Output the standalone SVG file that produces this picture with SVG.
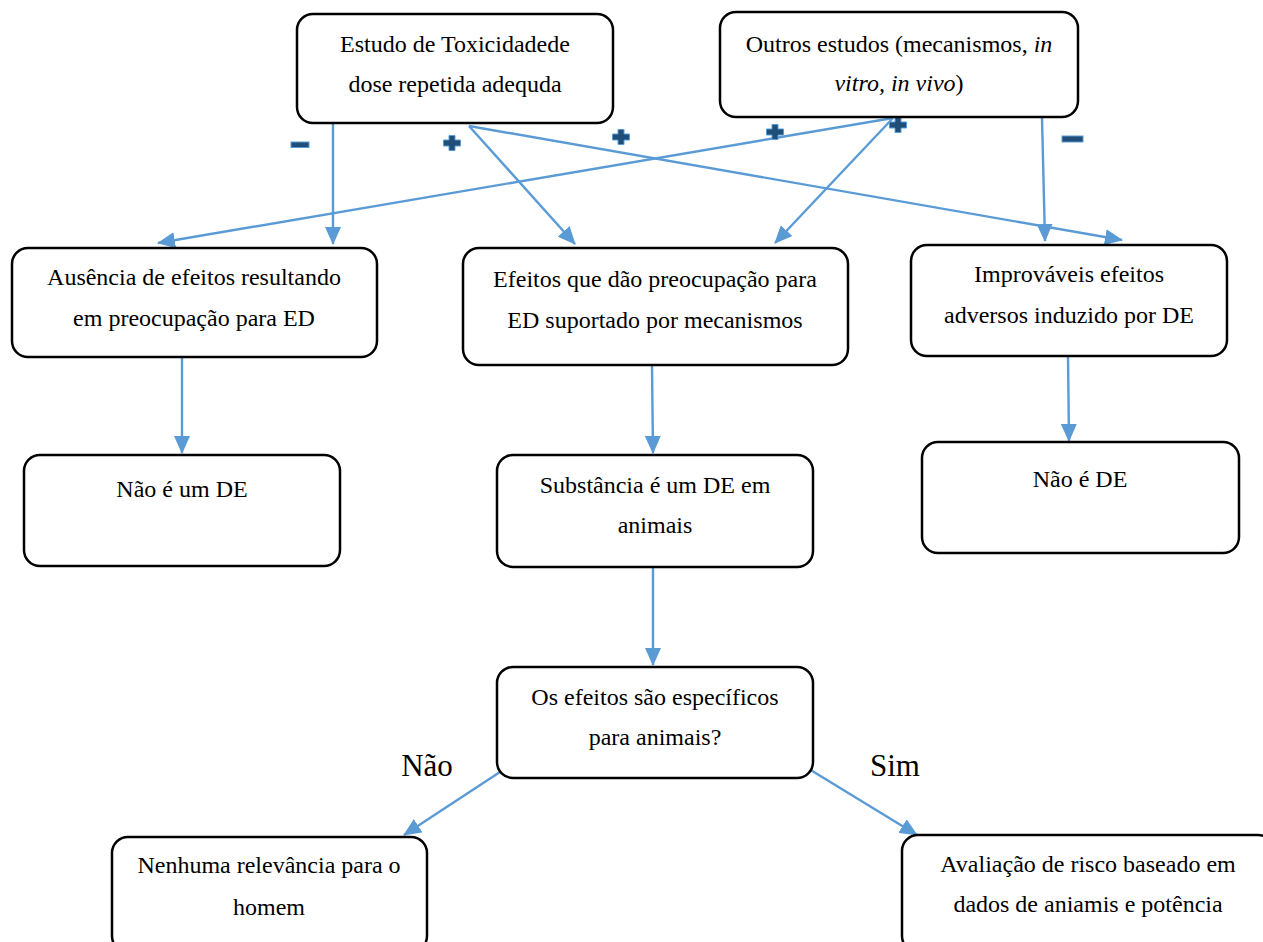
<svg xmlns="http://www.w3.org/2000/svg" width="1263" height="942" viewBox="0 0 1263 942">
  <style>
    .box { fill: #ffffff; stroke: #000000; stroke-width: 2.5; }
    .t { font-family: "Liberation Serif", "Times New Roman", serif; font-size: 24px; fill: #000000; text-anchor: middle; }
    .lbl { font-family: "Liberation Serif", "Times New Roman", serif; font-size: 31px; fill: #000000; text-anchor: middle; }
    .c { stroke: #5B9BD5; stroke-width: 2.4; fill: none; marker-end: url(#ah); }
    .sign { fill: #1F4E79; stroke: #5B9BD5; stroke-width: 1; }
  </style>
  <defs>
    <marker id="ah" markerUnits="userSpaceOnUse" markerWidth="18" markerHeight="16" refX="17" refY="8" orient="auto">
      <path d="M0,0 L18,8 L0,16 z" fill="#5B9BD5"/>
    </marker>
    <path id="plus" d="M-3,-7.5 h6 v4.5 h5.5 v6 h-5.5 v4.5 h-6 v-4.5 h-5.5 v-6 h5.5 z"/>
  </defs>
  <rect width="1263" height="942" fill="#ffffff"/>

  <g id="connectors">
    <line class="c" x1="333" y1="124" x2="333" y2="244"/>
    <line class="c" x1="469" y1="126" x2="575" y2="244"/>
    <line class="c" x1="469" y1="126" x2="1122" y2="240"/>
    <line class="c" x1="893" y1="118" x2="158" y2="243"/>
    <line class="c" x1="893" y1="118" x2="775" y2="243"/>
    <line class="c" x1="1042" y1="118" x2="1045" y2="241"/>
    <line class="c" x1="182" y1="358" x2="182" y2="453"/>
    <line class="c" x1="652" y1="366" x2="653" y2="453"/>
    <line class="c" x1="1068" y1="357" x2="1069" y2="441"/>
    <line class="c" x1="653" y1="568" x2="653" y2="665"/>
    <line class="c" x1="500" y1="772" x2="404" y2="835"/>
    <line class="c" x1="809" y1="769" x2="917" y2="835"/>
  </g>

  <g id="signs">
    <rect class="sign" x="291" y="142" width="18" height="5.5"/>
    <use href="#plus" class="sign" x="452" y="143"/>
    <use href="#plus" class="sign" x="621" y="137"/>
    <use href="#plus" class="sign" x="775" y="132"/>
    <use href="#plus" class="sign" x="898" y="125"/>
    <rect class="sign" x="1062" y="136" width="21" height="6"/>
  </g>

  <g id="n1">
    <rect class="box" x="297" y="14" width="316" height="109" rx="16"/>
    <text class="t" x="455" y="52">Estudo de Toxicidadede</text>
    <text class="t" x="455" y="92">dose repetida adequda</text>
  </g>
  <g id="n2">
    <rect class="box" x="720" y="12" width="358" height="105" rx="16"/>
    <text class="t" x="899" y="52">Outros estudos (mecanismos, <tspan font-style="italic">in</tspan></text>
    <text class="t" x="899" y="91"><tspan font-style="italic">vitro, in vivo</tspan>)</text>
  </g>
  <g id="n3">
    <rect class="box" x="12" y="248" width="365" height="109" rx="16"/>
    <text class="t" x="194" y="285">Ausência de efeitos resultando</text>
    <text class="t" x="194" y="326">em preocupação para ED</text>
  </g>
  <g id="n4">
    <rect class="box" x="463" y="248" width="385" height="117" rx="16"/>
    <text class="t" x="655" y="287">Efeitos que dão preocupação para</text>
    <text class="t" x="655" y="328">ED suportado por mecanismos</text>
  </g>
  <g id="n5">
    <rect class="box" x="911" y="245" width="316" height="111" rx="16"/>
    <text class="t" x="1069" y="282">Improváveis efeitos</text>
    <text class="t" x="1069" y="323">adversos induzido por DE</text>
  </g>
  <g id="n6">
    <rect class="box" x="24" y="455" width="316" height="111" rx="16"/>
    <text class="t" x="182" y="497">Não é um DE</text>
  </g>
  <g id="n7">
    <rect class="box" x="497" y="455" width="316" height="112" rx="16"/>
    <text class="t" x="655" y="493">Substância é um DE em</text>
    <text class="t" x="655" y="533">animais</text>
  </g>
  <g id="n8">
    <rect class="box" x="922" y="442" width="317" height="111" rx="16"/>
    <text class="t" x="1080" y="487">Não é DE</text>
  </g>
  <g id="n9">
    <rect class="box" x="497" y="667" width="316" height="111" rx="16"/>
    <text class="t" x="655" y="705">Os efeitos são específicos</text>
    <text class="t" x="655" y="745">para animais?</text>
  </g>
  <g id="n10">
    <rect class="box" x="112" y="837" width="315" height="115" rx="16"/>
    <text class="t" x="269" y="873">Nenhuma relevância para o</text>
    <text class="t" x="269" y="915">homem</text>
  </g>
  <g id="n11">
    <rect class="box" x="902" y="835" width="372" height="117" rx="16"/>
    <text class="t" x="1088" y="872">Avaliação de risco baseado em</text>
    <text class="t" x="1088" y="912">dados de aniamis e potência</text>
  </g>

  <g id="labels">
    <text class="lbl" x="427" y="776">Não</text>
    <text class="lbl" x="895" y="776">Sim</text>
  </g>
</svg>
